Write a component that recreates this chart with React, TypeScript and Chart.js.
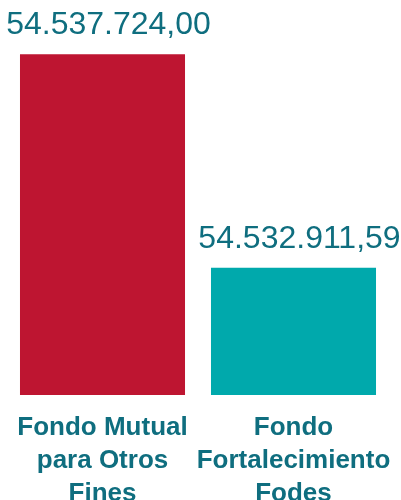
import React, { useEffect, useRef } from "react";
import { Chart, registerables } from "chart.js";

Chart.register(...registerables);

const categories: string[][] = [
  ["Fondo Mutual", "para Otros", "Fines"],
  ["Fondo", "Fortalecimiento", "Fodes"],
];
const values: number[] = [54537724.0, 54532911.59];
const barColors: string[] = ["#be1531", "#00a9ac"];
const yMin = 54530042;
const yMax = 54538944;

function formatEs(v: number): string {
  const fixed = v.toFixed(2);
  const [intPart, dec] = fixed.split(".");
  const withDots = intPart.replace(/\B(?=(\d{3})+(?!\d))/g, ".");
  return withDots + "," + dec;
}

const valueLabelPlugin = {
  id: "valueLabels",
  afterDatasetsDraw(chart: any) {
    const ctx = chart.ctx;
    const meta = chart.getDatasetMeta(0);
    ctx.save();
    ctx.font = "32px 'Liberation Sans', Arial, sans-serif";
    ctx.fillStyle = "#0f6e7f";
    ctx.textAlign = "center";
    ctx.textBaseline = "alphabetic";
    meta.data.forEach((bar: any, i: number) => {
      ctx.fillText(formatEs(values[i]), bar.x + 6, bar.y - 20);
    });
    ctx.restore();
  },
};

export default function App() {
  const canvasRef = useRef<HTMLCanvasElement | null>(null);
  useEffect(() => {
    if (!canvasRef.current) return;
    const chart = new Chart(canvasRef.current, {
      type: "bar",
      data: {
        labels: categories,
        datasets: [
          {
            data: values,
            backgroundColor: barColors,
            borderWidth: 0,
            barPercentage: 0.864,
            categoryPercentage: 1,
          },
        ],
      },
      options: {
        animation: false,
        responsive: false,
        maintainAspectRatio: false,
        layout: { padding: { left: 7, right: 12, top: 0, bottom: 0 } },
        plugins: {
          legend: { display: false },
          tooltip: { enabled: false },
        },
        scales: {
          x: {
            grid: { display: false, drawTicks: false },
            border: { display: false },
            afterFit: (scale: any) => {
              scale.paddingLeft = 0;
              scale.paddingRight = 0;
            },
            ticks: {
              color: "#0f6e7f",
              font: { family: "'Liberation Sans', Arial, sans-serif", size: 26, weight: "bold", lineHeight: 1.27 },
              padding: 16,
              maxRotation: 0,
              autoSkip: false,
            },
          },
          y: {
            display: false,
            min: yMin,
            max: yMax,
          },
        },
      },
      plugins: [valueLabelPlugin],
    });
    return () => chart.destroy();
  }, []);
  return (
    <div style={{ position: "absolute", left: 0, top: 0, width: 401, height: 500, overflow: "hidden", background: "#fff" }}>
      <canvas ref={canvasRef} width={401} height={526} />
    </div>
  );
}
